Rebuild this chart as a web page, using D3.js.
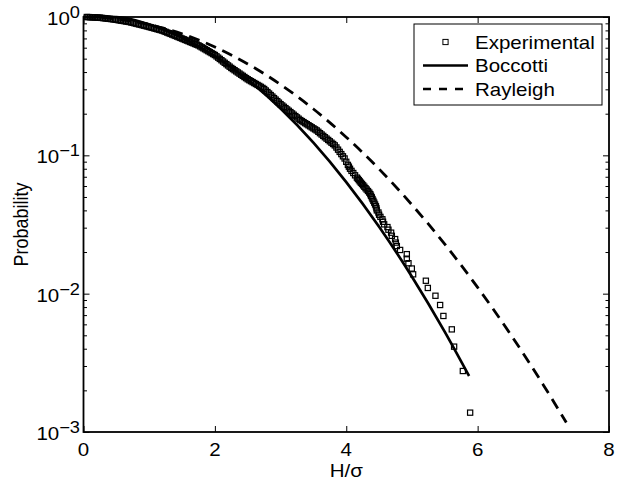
<!DOCTYPE html>
<html>
<head>
<meta charset="utf-8">
<script src="https://cdn.jsdelivr.net/npm/d3@7"></script>
<style>
body { margin: 0; background: #fff; }
text { font-family: 'Liberation Sans', Arial, sans-serif; fill: #000; }
</style>
</head>
<body>
<div id="chart"></div>
<script>
// experimental exceedance probability (H/sigma, P)
var expH = [
    0.05, 0.075, 0.1, 0.125, 0.15, 0.175, 0.2, 0.225, 0.25, 0.275, 0.3, 0.325, 0.35, 0.375, 0.4, 0.425,
    0.45, 0.475, 0.5, 0.525, 0.55, 0.575, 0.6, 0.625, 0.65, 0.675, 0.7, 0.725, 0.75, 0.775, 0.8, 0.825,
    0.85, 0.875, 0.9, 0.925, 0.95, 0.975, 1.0, 1.025, 1.05, 1.075, 1.1, 1.125, 1.15, 1.175, 1.2, 1.225,
    1.25, 1.275, 1.3, 1.325, 1.35, 1.375, 1.4, 1.425, 1.45, 1.475, 1.5, 1.525, 1.55, 1.575, 1.6, 1.625,
    1.65, 1.675, 1.7, 1.725, 1.75, 1.775, 1.8, 1.825, 1.85, 1.875, 1.9, 1.925, 1.95, 1.975, 2.0, 2.025,
    2.05, 2.075, 2.1, 2.125, 2.15, 2.175, 2.2, 2.225, 2.25, 2.275, 2.3, 2.325, 2.35, 2.375, 2.4, 2.425,
    2.45, 2.475, 2.5, 2.525, 2.55, 2.575, 2.6, 2.625, 2.65, 2.675, 2.7, 2.725, 2.75, 2.775, 2.8, 2.825,
    2.85, 2.875, 2.9, 2.925, 2.95, 2.975, 3.0, 3.025, 3.05, 3.075, 3.1, 3.125, 3.15, 3.175, 3.2, 3.225,
    3.25, 3.275, 3.3, 3.325, 3.35, 3.375, 3.4, 3.425, 3.45, 3.475, 3.5, 3.525, 3.55, 3.575, 3.6, 3.625,
    3.65, 3.675, 3.7, 3.725, 3.75, 3.775, 3.8, 3.825, 3.85, 3.875, 3.9, 3.925, 3.95, 3.975, 4.0, 4.025,
    4.04, 4.057, 4.08, 4.107, 4.134, 4.162, 4.177, 4.192, 4.207, 4.223, 4.24, 4.257, 4.275, 4.293, 4.311, 4.331,
    4.35, 4.366, 4.377, 4.389, 4.4, 4.413, 4.426, 4.439, 4.452, 4.46, 4.466, 4.49, 4.5, 4.52, 4.55, 4.56,
    4.577, 4.627, 4.642, 4.683, 4.694, 4.744, 4.755, 4.77, 4.82, 4.922, 4.922, 4.947, 4.998, 5.018,
    5.212, 5.242, 5.358, 5.429, 5.479, 5.607, 5.642, 5.775, 5.886
];
var expP = [
    1.0, 0.9986, 0.9971, 0.9957, 0.9943, 0.9928, 0.9914, 0.99, 0.9886, 0.9853, 0.982, 0.9788, 0.9757, 0.9723, 0.9692, 0.9661,
    0.9629, 0.959, 0.9546, 0.9502, 0.946, 0.9417, 0.9374, 0.9331, 0.929, 0.9247, 0.9204, 0.9141, 0.908, 0.9017, 0.8957, 0.8896,
    0.8835, 0.8776, 0.8716, 0.8656, 0.8598, 0.8537, 0.8474, 0.841, 0.8348, 0.8285, 0.8222, 0.816, 0.8101, 0.8039, 0.798, 0.7892,
    0.7806, 0.7718, 0.7634, 0.755, 0.7467, 0.7385, 0.7303, 0.7221, 0.7142, 0.7063, 0.6984, 0.6905, 0.6828, 0.6751, 0.6675, 0.6599,
    0.6525, 0.6451, 0.6379, 0.6307, 0.6237, 0.6138, 0.6039, 0.5943, 0.5848, 0.5754, 0.5662, 0.5572, 0.5483, 0.5395, 0.5309, 0.5195,
    0.5084, 0.4976, 0.487, 0.4766, 0.4664, 0.4565, 0.4467, 0.4374, 0.4282, 0.4202, 0.4124, 0.4047, 0.3972, 0.3898, 0.3825, 0.3754,
    0.3683, 0.3615, 0.3548, 0.3492, 0.3437, 0.3383, 0.333, 0.3278, 0.3226, 0.3176, 0.3126, 0.3071, 0.3017, 0.2942, 0.2868, 0.2797,
    0.2727, 0.2659, 0.2593, 0.2528, 0.2465, 0.2404, 0.2344, 0.2293, 0.2243, 0.2194, 0.2146, 0.2099, 0.2054, 0.2009, 0.1965, 0.1922,
    0.188, 0.1839, 0.1799, 0.1768, 0.1738, 0.1708, 0.1679, 0.165, 0.1622, 0.1594, 0.1567, 0.154, 0.1514, 0.148, 0.1446, 0.1414,
    0.1382, 0.1351, 0.1321, 0.1292, 0.1263, 0.1234, 0.1208, 0.118, 0.114, 0.1099, 0.1059, 0.1021, 0.0984, 0.0949, 0.0898, 0.0853,
    0.0828, 0.08, 0.0772, 0.0745, 0.0717, 0.069, 0.0676, 0.0662, 0.0648, 0.0634, 0.0621, 0.0607, 0.0593, 0.0579, 0.0566, 0.0552,
    0.0538, 0.0524, 0.051, 0.0497, 0.0483, 0.0469, 0.0455, 0.0441, 0.0428, 0.0414, 0.04, 0.0386, 0.0372, 0.0359, 0.0345, 0.0331,
    0.0317, 0.0303, 0.029, 0.0276, 0.0262, 0.0248, 0.0234, 0.0221, 0.0207, 0.0193, 0.0179, 0.0166, 0.0152, 0.0138,
    0.0124, 0.011, 0.00966, 0.00828, 0.0069, 0.00552, 0.00414, 0.00276, 0.00138
];

var bocH = [0, 0.5, 1, 1.5, 2, 2.5, 3, 3.5, 4, 4.5, 5, 5.5, 5.87];
var bocP = [1.0, 0.998, 0.8816, 0.7085, 0.5218, 0.3521, 0.2177, 0.1234, 0.064, 0.03046, 0.01327, 0.0053, 0.00254];

var rayH = [0, 0.5, 1, 1.5, 2, 2.5, 3, 3.5, 4, 4.5, 5, 5.5, 6, 6.5, 7, 7.35];
var rayP = [1.0, 0.969, 0.8825, 0.7548, 0.6065, 0.4578, 0.3247, 0.2163, 0.1353, 0.0796, 0.0439, 0.0228, 0.0111, 0.00509, 0.00219, 0.00117];

var xTicks = [0, 2, 4, 6, 8];
var yTicks = [1e-3, 1e-2, 1e-1, 1];
var yTickExp = ['\u22123', '\u22122', '\u22121', '0'];
var legendLabels = ['Experimental', 'Boccotti', 'Rayleigh'];

var W = 636, H = 486;
var mLeft = 83.5, mRight = 609, mTop = 17, mBottom = 432;
var stretch = 1.14;

var svg = d3
    .select('#chart')
    .append('svg')
    .attr('width', W)
    .attr('height', H);

var x = d3.scaleLinear().domain([0, 8]).range([mLeft, mRight]);
var y = d3.scaleLog().domain([1e-3, 1]).range([mBottom, mTop]);

var minor = [];
[-3, -2, -1].forEach(d => {
    for (var k = 2; k <= 9; k++) minor.push(k * Math.pow(10, d));
});

// text drawn a little wider than tall, like the picture
var stext = (g, tx, ty, str, anchor, size) => {
    return g
        .append('text')
        .attr('transform', `translate(${tx},${ty}) scale(${stretch},1)`)
        .attr('text-anchor', anchor)
        .style('font-size', size + 'px')
        .text(str);
};

var tickStyle = g => {
    g.select('.domain').remove();
    g.selectAll('line').attr('stroke', '#000').attr('stroke-width', 1);
};

svg.append('g').attr('transform', `translate(0,${mBottom})`)
    .call(d3.axisBottom(x).tickValues(xTicks).tickSize(-6).tickFormat('')).call(tickStyle);
svg.append('g').attr('transform', `translate(0,${mTop})`)
    .call(d3.axisTop(x).tickValues(xTicks).tickSize(-6).tickFormat('')).call(tickStyle);
svg.append('g').attr('transform', `translate(${mLeft},0)`)
    .call(d3.axisLeft(y).tickValues(yTicks).tickSize(-6).tickFormat('')).call(tickStyle);
svg.append('g').attr('transform', `translate(${mRight},0)`)
    .call(d3.axisRight(y).tickValues(yTicks).tickSize(-6).tickFormat('')).call(tickStyle);
svg.append('g').attr('transform', `translate(${mLeft},0)`)
    .call(d3.axisLeft(y).tickValues(minor).tickSize(-3.5).tickFormat('')).call(tickStyle);
svg.append('g').attr('transform', `translate(${mRight},0)`)
    .call(d3.axisRight(y).tickValues(minor).tickSize(-3.5).tickFormat('')).call(tickStyle);

svg.append('rect')
    .attr('x', mLeft)
    .attr('y', mTop)
    .attr('width', mRight - mLeft)
    .attr('height', mBottom - mTop)
    .attr('fill', 'none')
    .attr('stroke', '#000')
    .attr('stroke-width', 1.8);

xTicks.forEach(t => {
    stext(svg, x(t), 456, t, 'middle', 18);
});

yTicks.forEach((t, i) => {
    var lab = stext(svg, 80, y(t) + 8, '10', 'end', 18);
    lab.append('tspan').attr('dy', -7).style('font-size', '16px').text(yTickExp[i]);
});

stext(svg, x(4), 477, 'H/\u03c3', 'middle', 18);

svg.append('text')
    .attr('transform', `translate(28,${(mTop + mBottom) / 2}) rotate(-90) scale(1,${stretch})`)
    .attr('text-anchor', 'middle')
    .style('font-size', '18px')
    .text('Probability');

var line = d3
    .line()
    .x(d => x(d[0]))
    .y(d => y(d[1]))
    .curve(d3.curveMonotoneX);

svg.append('path')
    .datum(rayH.map((h, i) => [h, rayP[i]]))
    .attr('d', line)
    .attr('fill', 'none')
    .attr('stroke', '#000')
    .attr('stroke-width', 2.8)
    .attr('stroke-dasharray', '11,7');

svg.append('path')
    .datum(bocH.map((h, i) => [h, bocP[i]]))
    .attr('d', line)
    .attr('fill', 'none')
    .attr('stroke', '#000')
    .attr('stroke-width', 2.7);

var sq = 5.2;
svg.append('g')
    .selectAll('rect')
    .data(expH.map((h, i) => [h, expP[i]]))
    .enter()
    .append('rect')
    .attr('x', d => x(d[0]) - sq / 2)
    .attr('y', d => y(d[1]) - sq / 2)
    .attr('width', sq)
    .attr('height', sq)
    .attr('fill', 'none')
    .attr('stroke', '#000')
    .attr('stroke-width', 1.2);

// legend
var lg = svg.append('g');
lg.append('rect')
    .attr('x', 414)
    .attr('y', 24)
    .attr('width', 188)
    .attr('height', 81)
    .attr('fill', '#fff')
    .attr('stroke', '#000')
    .attr('stroke-width', 1);

var rowY = [42, 65.5, 89];
legendLabels.forEach((name, i) => {
    if (i === 0) {
        lg.append('rect')
            .attr('x', 445.5 - sq / 2)
            .attr('y', rowY[i] - sq / 2)
            .attr('width', sq)
            .attr('height', sq)
            .attr('fill', 'none')
            .attr('stroke', '#000');
    } else {
        lg.append('line')
            .attr('x1', 423)
            .attr('x2', 468)
            .attr('y1', rowY[i])
            .attr('y2', rowY[i])
            .attr('stroke', '#000')
            .attr('stroke-width', 2.7)
            .attr('stroke-dasharray', i === 2 ? '8,8' : null);
    }
    stext(lg, 475, rowY[i] + 6.5, name, 'start', 18);
});
</script>
</body>
</html>
